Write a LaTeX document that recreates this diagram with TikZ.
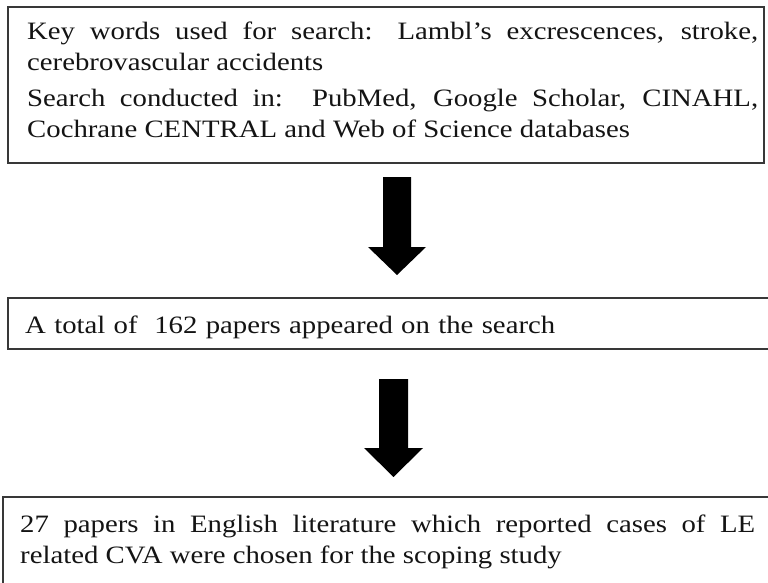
\documentclass[tikz,border=0pt]{standalone}
\usepackage{fontspec}
\setmainfont{Liberation Serif}[FakeStretch=1.15]
\begin{document}
\begin{tikzpicture}[x=1pt,y=-1pt,
  boxframe/.style={draw=black!78, line width=2pt, inner sep=0pt, outer sep=0pt},
  boxtext/.style={anchor=base west, inner sep=0pt, align=justify, text=black!92,
    font=\fontsize{25}{31}\selectfont},
  blockarrow/.style={fill=black}]
\useasboundingbox (0,0) rectangle (768,583);
\fill[white] (0,0) rectangle (768,583);
% boxes
\node[boxframe, anchor=north west, minimum width=756pt, minimum height=156pt] (b1) at (8,7) {};
\node[boxframe, anchor=north west, minimum width=780pt, minimum height=51pt] (b2) at (8,298) {};
\node[boxframe, anchor=north west, minimum width=790pt, minimum height=120pt] (b3) at (3,497) {};
% texts
\node[boxtext, text width=731pt] (t1) at (27,40)
  {Key words used for search: Lambl’s excrescences, stroke,\linebreak
   cerebrovascular accidents\par\vspace{5pt}
   Search conducted in:\ \ PubMed, Google Scholar, CINAHL,\linebreak
   Cochrane CENTRAL and Web of Science databases};
\node[boxtext, text width=600pt, align=left] (t2) at (25,333)
  {A total of\ \ 162 papers appeared on the search};
\node[boxtext, text width=735pt] (t3) at (20,532)
  {27 papers in English literature which reported cases of LE\linebreak
   related CVA were chosen for the scoping study};
% block arrows
\fill[blockarrow] (383,177) -- (411,177) -- (411,247) -- (426,247) -- (397,275)
  -- (368,247) -- (383,247) -- cycle;
\fill[blockarrow] (379,379) -- (408,379) -- (408,448) -- (423,448) -- (393.5,477)
  -- (364,448) -- (379,448) -- cycle;
\end{tikzpicture}
\end{document}
